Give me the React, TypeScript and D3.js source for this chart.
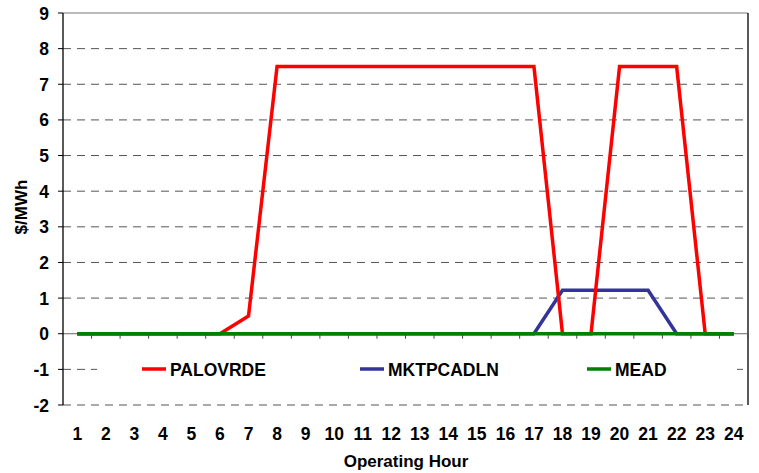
import React from 'react';
import * as d3 from 'd3';

const hours = d3.range(1, 25).map(String);
const yTicks = [-2, -1, 0, 1, 2, 3, 4, 5, 6, 7, 8, 9];

const palovrde = [0, 0, 0, 0, 0, 0, 0.5, 7.5, 7.5, 7.5, 7.5, 7.5, 7.5, 7.5, 7.5, 7.5, 7.5, 0, 0, 7.5, 7.5, 7.5, 0, 0];
const mktpcadln = [0, 0, 0, 0, 0, 0, 0, 0, 0, 0, 0, 0, 0, 0, 0, 0, 0, 1.22, 1.22, 1.22, 1.22, 0, 0, 0];
const mead = [0, 0, 0, 0, 0, 0, 0, 0, 0, 0, 0, 0, 0, 0, 0, 0, 0, 0, 0, 0, 0, 0, 0, 0];

const series = [
  { name: 'PALOVRDE', values: palovrde, color: '#ff0000', lx: 142 },
  { name: 'MKTPCADLN', values: mktpcadln, color: '#333399', lx: 360 },
  { name: 'MEAD', values: mead, color: '#008000', lx: 587 },
];

const W = 759;
const H = 473;
const left = 63;
const right = 748;
const top = 13;
const bottom = 405;
const font = 'Arial, "Liberation Sans", sans-serif';

export default function App() {
  const x = d3.scaleBand().domain(hours).range([left, right]);
  const y = d3.scaleLinear().domain([-2, 9]).range([bottom, top]);
  const line = d3.line<number>()
    .x((_, i) => (x(hours[i]) as number) + x.bandwidth() / 2)
    .y(d => y(d));

  return (
    <svg width={W} height={H} style={{ position: 'absolute', left: 0, top: 0, background: '#fff' }}>
      {/* gridlines */}
      {yTicks.filter(t => t !== 0 && t !== 9).map(t => (
        <line key={t} x1={left} x2={right} y1={y(t)} y2={y(t)} stroke="#555" strokeWidth={1} strokeDasharray="8,6" />
      ))}
      <line x1={left} x2={right} y1={y(9)} y2={y(9)} stroke="#777" strokeWidth={1} />
      <line x1={right} x2={right} y1={y(9)} y2={y(-2)} stroke="#000" strokeWidth={1.3} />
      {/* legend box */}
      <rect x={97} y={352} width={640} height={34} fill="#fff" />
      {series.map(s => (
        <g key={s.name}>
          <line x1={s.lx} x2={s.lx + 24} y1={369} y2={369} stroke={s.color} strokeWidth={3.5} />
          <text x={s.lx + 28} y={376} fontFamily={font} fontWeight="bold" fontSize={17.5} fill="#000">{s.name}</text>
        </g>
      ))}
      {/* zero axis */}
      <line x1={left} x2={right} y1={y(0)} y2={y(0)} stroke="#666" strokeWidth={1} />
      {hours.map(h => (
        <line key={h} x1={(x(h) as number) + x.bandwidth()} x2={(x(h) as number) + x.bandwidth()} y1={y(0)} y2={y(0) + 5} stroke="#444" strokeWidth={1} />
      ))}
      {/* y axis */}
      <line x1={left} x2={left} y1={y(9)} y2={y(-2)} stroke="#000" strokeWidth={1.3} />
      {yTicks.map(t => (
        <g key={t}>
          <line x1={left - 5} x2={left} y1={y(t)} y2={y(t)} stroke="#000" strokeWidth={1} />
          <text x={49} y={y(t) + 6.5} textAnchor="end" fontFamily={font} fontWeight="bold" fontSize={17.5} fill="#000">{t}</text>
        </g>
      ))}
      {/* series */}
      {[series[1], series[0], series[2]].map(s => (
        <path key={s.name} d={line(s.values) || ''} fill="none" stroke={s.color} strokeWidth={3.5} strokeLinejoin="miter" />
      ))}
      {/* x labels */}
      {hours.map(h => (
        <text key={h} x={(x(h) as number) + x.bandwidth() / 2} y={440} textAnchor="middle" fontFamily={font} fontWeight="bold" fontSize={17.5} fill="#000">{h}</text>
      ))}
      <text x={406} y={467} textAnchor="middle" fontFamily={font} fontWeight="bold" fontSize={17} fill="#000">Operating Hour</text>
      <text transform={`translate(27, 207) rotate(-90)`} textAnchor="middle" fontFamily={font} fontWeight="bold" fontSize={17} fill="#000">$/MWh</text>
    </svg>
  );
}
